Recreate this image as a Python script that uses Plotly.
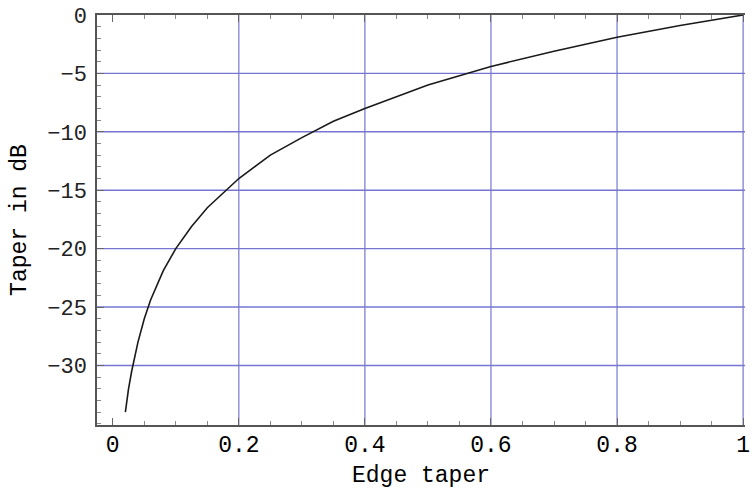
import plotly.graph_objects as go

# Edge taper (linear amplitude) and the corresponding taper in dB
edge_taper = [0.02, 0.025, 0.03, 0.04, 0.05, 0.06, 0.08, 0.10, 0.125, 0.15,
              0.20, 0.25, 0.30, 0.35, 0.40, 0.50, 0.60, 0.70, 0.80, 0.90, 1.00]
taper_db = [-34.0, -32.0, -30.5, -28.0, -26.0, -24.4, -21.9, -20.0, -18.1, -16.5,
            -14.0, -12.0, -10.5, -9.1, -8.0, -6.0, -4.4, -3.1, -1.9, -0.9, 0.0]

x_ticks = [0, 0.2, 0.4, 0.6, 0.8, 1]
x_tick_text = ["0", "0.2", "0.4", "0.6", "0.8", "1"]
y_ticks = [0, -5, -10, -15, -20, -25, -30]
y_tick_text = ["0", "\u22125", "\u221210", "\u221215", "\u221220", "\u221225", "\u221230"]

x_grid = [0.2, 0.4, 0.6, 0.8, 1.0]
y_grid = [-5, -10, -15, -20, -25, -30]

grid_color = "rgb(118,118,210)"
mono = "Liberation Mono, Courier New, monospace"

fig = go.Figure()
fig.add_trace(go.Scatter(
    x=edge_taper, y=taper_db, mode="lines",
    line=dict(color="#1a1a1a", width=1.6),
    hoverinfo="skip", showlegend=False,
))

shapes = []
for gx in x_grid:
    shapes.append(dict(type="line", xref="x", yref="paper", x0=gx, x1=gx, y0=0, y1=1,
                       line=dict(color=grid_color, width=1.2), layer="below"))
for gy in y_grid:
    shapes.append(dict(type="line", xref="paper", yref="y", x0=0, x1=1, y0=gy, y1=gy,
                       line=dict(color=grid_color, width=1.4), layer="below"))

fig.update_layout(
    width=755, height=489,
    margin=dict(l=97, r=5, t=13, b=64),
    paper_bgcolor="white", plot_bgcolor="white",
    shapes=shapes,
    xaxis=dict(
        range=[-0.025, 1.003], showgrid=False, zeroline=False,
        tickvals=x_ticks, ticktext=x_tick_text,
        ticks="inside", ticklen=7, tickwidth=1, tickcolor="#666",
        minor=dict(dtick=0.05, tick0=0, ticks="inside", ticklen=4, tickcolor="#888", showgrid=False),
        showline=True, linecolor="#555", linewidth=1.5, mirror="allticks",
        tickfont=dict(family=mono, size=23, color="black"),
        ticklabelstandoff=-2,
        title=dict(text="Edge taper", font=dict(family=mono, size=23, color="black"), standoff=8),
    ),
    yaxis=dict(
        range=[-35.1, 0], showgrid=False, zeroline=False,
        tickvals=y_ticks, ticktext=y_tick_text,
        ticks="inside", ticklen=7, tickwidth=1, tickcolor="#666",
        minor=dict(dtick=1, tick0=0, ticks="inside", ticklen=4, tickcolor="#888", showgrid=False),
        showline=True, linecolor="#555", linewidth=1.5,
        tickfont=dict(family=mono, size=22, color="#222"),
        ticklabelstandoff=4,
        title=dict(text="Taper in dB", font=dict(family=mono, size=23, color="black"), standoff=14),
    ),
)

fig.write_html("out.html")
